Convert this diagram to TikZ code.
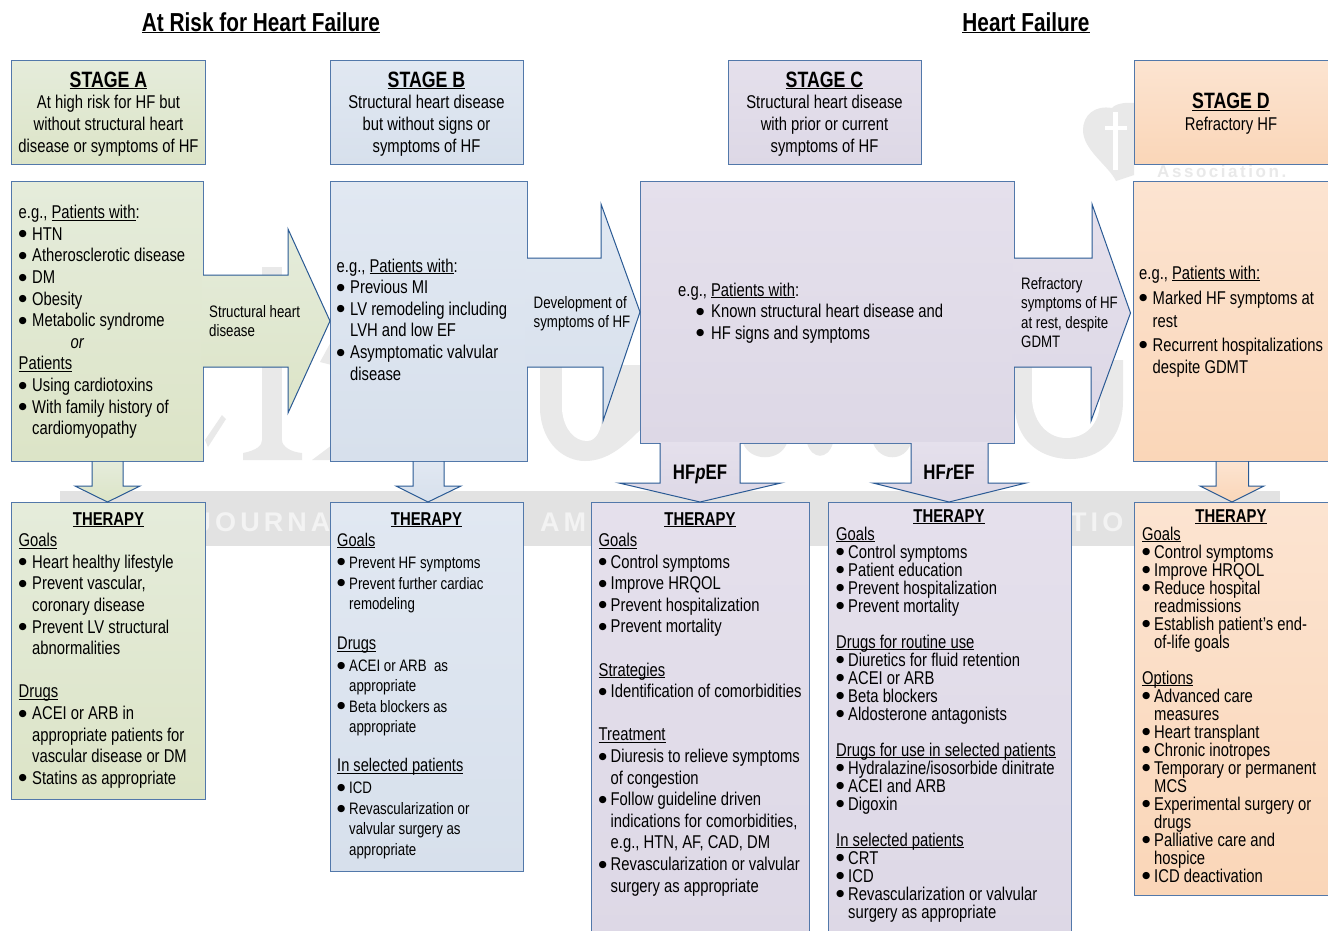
\documentclass[tikz,border=0pt]{standalone}
\usepackage{fontspec}
\setmainfont[FakeStretch=0.8]{Liberation Sans}
\newfontfamily\wmfont[LetterSpace=15]{Liberation Sans}
\newfontfamily\bufont{DejaVu Sans}
\definecolor{edgeb}{HTML}{5278AA}
\definecolor{edgea}{HTML}{2A5A94}
\definecolor{wm}{HTML}{E2E2E2}
\definecolor{wmb}{HTML}{E9E9E9}
\definecolor{wmt}{HTML}{F3F3F3}
\newcommand\U[1]{\underline{\smash{#1}}}
\newcommand\bu{\raisebox{3.4pt}{\bufont\fontsize{9.5}{9.5}\selectfont ●}}
\newcommand\B[1]{\makebox[13.5pt][l]{\bu}#1}
\newcommand\BW[1]{\makebox[12pt][l]{\bu}#1}
\newcommand\I[1]{\hspace*{13.5pt}#1}
\newcommand\IW[1]{\hspace*{12pt}#1}
\newcommand\BC[1]{\hspace*{18pt}\makebox[15pt][l]{\bu}#1}
\newcommand\HH[1]{{\fontsize{18.3}{20}\selectfont\U{#1}}}
\newcommand\fs[2]{\fontsize{#1}{#2}\selectfont}
\newcommand\boxnode[6]{\node[box,#1,minimum width=#5pt,minimum height=#6pt] (#2) at (#3,#4) {};}
\newcommand\harrow[8]{%
  \path[#1,draw=none] ([xshift=-1.2pt]#2.east |- 0,#5) -- #7 -- (#3 |- 0,#4) -- #8 -- ([xshift=-1.2pt]#2.east |- 0,#6) -- cycle;
  \draw[arrowedge] (#2.east |- 0,#5) -- #7 -- (#3 |- 0,#4) -- #8 -- (#2.east |- 0,#6);}
\newcommand\varrow[8]{%
  \path[#1,draw=none] (#4,0 |- #2.south) ++(0,-1.2pt) -- (#4,0 |- #2.south) -- (#4,486) -- (#6,486) -- (#8,0 |- #3.north) -- (#7,486) -- (#5,486) -- (#5,0 |- #2.south) -- ++(0,-1.2pt) -- cycle;
  \draw[arrowedge] (#4,0 |- #2.south) -- (#4,486) -- (#6,486) -- (#8,0 |- #3.north) -- (#7,486) -- (#5,486) -- (#5,0 |- #2.south);}
\tikzset{
  box/.style={anchor=north west,draw=edgeb,line width=1pt,inner sep=0pt,outer sep=0pt},
  arrowedge/.style={draw=edgea,line width=1pt,line join=miter},
  fillA/.style={top color=A1,bottom color=A2},
  fillB/.style={top color=B1,bottom color=B2},
  fillC/.style={top color=C1,bottom color=C2},
  fillD/.style={top color=D1,bottom color=D2},
  txt/.style={anchor=north west,inner sep=0pt,align=left,font=\fs{18.5}{21.6},execute at begin node={\rule{0pt}{26pt}}},
  ctxt/.style={anchor=north,inner sep=0pt,align=center,font=\fs{18.5}{21.6},execute at begin node={\rule{0pt}{26pt}}},
  smallt/.style={txt,font=\fs{16.6}{19.5}},
  wmtext/.style={anchor=base west,inner sep=0,text=wmt,font=\wmfont\bfseries\fontsize{27}{27}\selectfont},
}
\definecolor{A1}{HTML}{E5ECDB}\definecolor{A2}{HTML}{DCE4C7}
\definecolor{B1}{HTML}{E1E8F2}\definecolor{B2}{HTML}{D7E0EC}
\definecolor{C1}{HTML}{E5E0EC}\definecolor{C2}{HTML}{DDD8E6}
\definecolor{D1}{HTML}{FCE4D1}\definecolor{D2}{HTML}{FAD6B8}
\begin{document}
\begin{tikzpicture}[x=1pt,y=-1pt]
\clip (0,0) rectangle (1328,930);
\fill[white] (0,0) rectangle (1328,930);
% watermark
\fill[wm] (60,491) rectangle (1280,546);
\node[wmtext] (wm1) at (196,531) {JOURNA};
\node[wmtext] (wm2) at (540,531) {AM};
\node[wmtext] (wm3) at (1070,531) {TIO};
\fill[wmb] (262,267) rectangle (282,448);
\fill[wmb] (243,460) -- (243,453) .. controls (258,450) and (262,445) .. (262,440) -- (282,440) .. controls (282,446) and (290,452) .. (302,453) -- (302,460) -- cycle;
\fill[wmb] (312,460) -- (332,445) -- (332,460) -- cycle;
\fill[wmb] (320,362) -- (332,340) -- (332,365) -- cycle;
\fill[wmb] (205,440) -- (222,415) -- (226,419) -- (208,447) -- cycle;
\fill[wmb] (540,365) -- (540,410) .. controls (542,445) and (565,461) .. (585,461) .. controls (608,461) and (625,445) .. (640,430) -- (640,365) -- cycle;
\fill[white] (562,365) -- (562,410) .. controls (564,430) and (575,441) .. (587,441) .. controls (596,441) and (602,430) .. (602,415) -- (602,365) -- cycle;
\fill[wmb] (1015,360) -- (1015,410) .. controls (1018,445) and (1045,459) .. (1070,459) .. controls (1100,459) and (1123,440) .. (1123,400) -- (1123,360) -- cycle;
\fill[white] (1032,360) -- (1032,400) .. controls (1034,425) and (1050,438) .. (1066,438) .. controls (1085,438) and (1100,425) .. (1100,400) -- (1100,360) -- cycle;
\fill[wmb] (743,443) .. controls (750,462) and (780,462) .. (787,443) -- cycle;
\fill[wmb] (807,443) .. controls (812,460) and (828,460) .. (833,443) -- cycle;
\fill[wmb] (873,443) .. controls (880,462) and (905,462) .. (911,443) -- cycle;
\fill[wmb] (1116,181) .. controls (1108,165) and (1083,150) .. (1083,130) .. controls (1083,115) and (1095,105) .. (1112,108) .. controls (1115,104) and (1125,102) .. (1134,103) -- (1134,175) -- cycle;
\fill[white] (1113,112) rectangle (1118,170);
\fill[white] (1105,126) rectangle (1127,130);
\node[anchor=base west,inner sep=0,text=wmb,font=\wmfont\bfseries\fontsize{17}{17}\selectfont] (wm4) at (1157,177) {Association.};
% stage boxes
\boxnode{fillA}{sa}{11.5}{60}{193.5}{104}
\boxnode{fillB}{sb}{330}{60}{193}{104}
\boxnode{fillC}{sc}{728}{60}{193}{104}
\boxnode{fillD}{sd}{1134.5}{60}{195}{104}
% patient boxes
\boxnode{fillA}{ma}{11.5}{181}{191.5}{280}
\boxnode{fillB}{mb}{330}{181}{197}{280}
\boxnode{fillC}{mc}{640}{181}{374}{262}
\boxnode{fillD}{md}{1133}{181}{197}{280}
% therapy boxes
\boxnode{fillA}{ta}{11.5}{502}{193.5}{297}
\boxnode{fillB}{tb}{330}{502}{193}{369}
\boxnode{fillC}{tc}{591}{502}{218}{440}
\boxnode{fillC}{tr}{828}{502}{243}{440}
\boxnode{fillD}{td}{1134.5}{502}{195}{393}
% block arrows
\harrow{fillA}{ma}{mb.west}{321}{275}{367}{(288,275) -- (288,229)}{(288,413) -- (288,367)}
\harrow{fillB}{mb}{mc.west}{312}{258}{367}{(601,258) -- (601,204)}{(603,421) -- (603,367)}
\harrow{fillC}{mc}{[xshift=-2.5pt]md.west}{313}{258}{367}{(1092,258) -- (1092,204)}{(1091,421) -- (1091,367)}
\varrow{fillA}{ma}{ta}{92}{123}{75}{140}{107.5}
\varrow{fillB}{mb}{tb}{413}{444}{396}{461}{428}
\varrow{fillD}{md}{td}{1216}{1248.5}{1200}{1264}{1232}
\path[fillC,draw=none] (660,442) -- (660,483) -- (619,483) -- (700,0 |- tc.north) -- (781,483) -- (740,483) -- (740,442) -- cycle;
\draw[arrowedge] (660,0 |- mc.south) -- (660,483) -- (619,483) -- (700,0 |- tc.north) -- (781,483) -- (740,483) -- (740,0 |- mc.south);
\path[fillC,draw=none] (911,442) -- (911,483) -- (873,483) -- (949,0 |- tr.north) -- (1026,483) -- (988,483) -- (988,442) -- cycle;
\draw[arrowedge] (911,0 |- mc.south) -- (911,483) -- (873,483) -- (949,0 |- tr.north) -- (1026,483) -- (988,483) -- (988,0 |- mc.south);
% titles
\node[ctxt,font=\bfseries\fs{26}{28}] (t1) at (261,5) {\U{At Risk for Heart Failure}};
\node[ctxt,font=\bfseries\fs{26}{28}] (t2) at (1026,5) {\U{Heart Failure}};
% stage text
\node[ctxt] (sat) at (108.5,87) {{\bfseries\fs{22.2}{24}\U{STAGE A}}\\At high risk for HF but\\without structural heart\\disease or symptoms of HF};
\node[ctxt] (sbt) at (426.5,87) {{\bfseries\fs{22.2}{24}\U{STAGE B}}\\Structural heart disease\\but without signs or\\symptoms of HF};
\node[ctxt] (sct) at (824.5,87) {{\bfseries\fs{22.2}{24}\U{STAGE C}}\\Structural heart disease\\with prior or current\\symptoms of HF};
\node[ctxt] (sdt) at (1231,104) {{\bfseries\fs{22.2}{24}\U{STAGE D}}\\Refractory HF};
% patient text
\node[txt] (mat) at (18.5,208.5) {e.g., \U{Patients with}:\\\B{HTN}\\\B{Atherosclerotic disease}\\\B{DM}\\\B{Obesity}\\\B{Metabolic syndrome}\\\hspace*{52pt}\textit{or}\\\U{Patients}\\\B{Using cardiotoxins}\\\B{With family history of}\\\I{cardiomyopathy}};
\node[txt] (mbt) at (336.5,262) {e.g., \U{Patients with}:\\\B{Previous MI}\\\B{LV remodeling including}\\\I{LVH and low EF}\\\B{Asymptomatic valvular}\\\I{disease}};
\node[txt] (mct) at (678,286) {e.g., \U{Patients with}:\\\BC{Known structural heart disease and}\\\BC{HF signs and symptoms}};
\node[txt] (mdt) at (1139,269) {e.g., \U{Patients with:}\\[3.4pt]\B{Marked HF symptoms at}\\[1.4pt]\I{rest}\\[2.4pt]\B{Recurrent hospitalizations}\\[0.4pt]\I{despite GDMT}};
% arrow labels
\node[smallt] (l1) at (209,305) {Structural heart\\disease};
\node[smallt] (l2) at (533.5,296) {Development of\\symptoms of HF};
\node[smallt] (l3) at (1021,277) {Refractory\\symptoms of HF\\at rest, despite\\GDMT};
\node[ctxt,font=\bfseries\fs{21}{23}] (l4) at (700,453) {HF\textit{p}EF};
\node[ctxt,font=\bfseries\fs{21}{23}] (l5) at (949,453) {HF\textit{r}EF};
% therapy headings
\node[ctxt,font=\bfseries\fs{18.6}{20}] (hta) at (108.5,499) {\U{THERAPY}};
\node[ctxt,font=\bfseries\fs{18.6}{20}] (htb) at (426.5,499) {\U{THERAPY}};
\node[ctxt,font=\bfseries\fs{18.6}{20}] (htc) at (700,499) {\U{THERAPY}};
\node[ctxt,font=\bfseries\fs{18.6}{20}] (htr) at (949,496) {\U{THERAPY}};
\node[ctxt,font=\bfseries\fs{18.6}{20}] (htd) at (1231,496) {\U{THERAPY}};
% therapy text
\node[txt] (tat) at (18.5,546.5) {\U{Goals}\\\B{Heart healthy lifestyle}\\\B{Prevent vascular,}\\\I{coronary disease}\\\B{Prevent LV structural}\\\I{abnormalities}\\[21.6pt]\U{Drugs}\\\B{ACEI or ARB in}\\\I{appropriate patients for}\\\I{vascular disease or DM}\\\B{Statins as appropriate}};
\node[txt,font=\fs{16.6}{20.3}] (tbt) at (337,546) {\HH{Goals}\\[1.7pt]\BW{Prevent HF symptoms}\\[.7pt]\BW{Prevent further cardiac}\\\IW{remodeling}\\[19.7pt]\HH{Drugs}\\[1.7pt]\BW{ACEI or ARB~ as}\\\IW{appropriate}\\\BW{Beta blockers as}\\\IW{appropriate}\\[18.7pt]\HH{In selected patients}\\[1.7pt]\BW{ICD}\\[.7pt]\BW{Revascularization or}\\\IW{valvular surgery as}\\\IW{appropriate}};
\node[txt] (tct) at (598.5,546.3) {\U{Goals}\\\BW{Control symptoms}\\\BW{Improve HRQOL}\\\BW{Prevent hospitalization}\\\BW{Prevent mortality}\\[21.6pt]\U{Strategies}\\\BW{Identification of comorbidities}\\[21.6pt]\U{Treatment}\\\BW{Diuresis to relieve symptoms}\\\IW{of congestion}\\\BW{Follow guideline driven}\\\IW{indications for comorbidities,}\\\IW{e.g., HTN, AF, CAD, DM}\\\BW{Revascularization or valvular}\\\IW{surgery as appropriate}};
\node[txt,font=\fs{18.5}{18}] (trt) at (836,540) {\U{Goals}\\\BW{Control symptoms}\\\BW{Patient education}\\\BW{Prevent hospitalization}\\\BW{Prevent mortality}\\[18pt]\U{Drugs for routine use}\\\BW{Diuretics for fluid retention}\\\BW{ACEI or ARB}\\\BW{Beta blockers}\\\BW{Aldosterone antagonists}\\[18pt]\U{Drugs for use in selected patients}\\\BW{Hydralazine/isosorbide dinitrate}\\\BW{ACEI and ARB}\\\BW{Digoxin}\\[18pt]\U{In selected patients}\\\BW{CRT}\\\BW{ICD}\\\BW{Revascularization or valvular}\\\IW{surgery as appropriate}};
\node[txt,font=\fs{18.5}{18}] (tdt) at (1142,540) {\U{Goals}\\\BW{Control symptoms}\\\BW{Improve HRQOL}\\\BW{Reduce hospital}\\\IW{readmissions}\\\BW{Establish patient's end-}\\\IW{of-life goals}\\[18pt]\U{Options}\\\BW{Advanced care}\\\IW{measures}\\\BW{Heart transplant}\\\BW{Chronic inotropes}\\\BW{Temporary or permanent}\\\IW{MCS}\\\BW{Experimental surgery or}\\\IW{drugs}\\\BW{Palliative care and}\\\IW{hospice}\\\BW{ICD deactivation}};
\end{tikzpicture}
\end{document}
